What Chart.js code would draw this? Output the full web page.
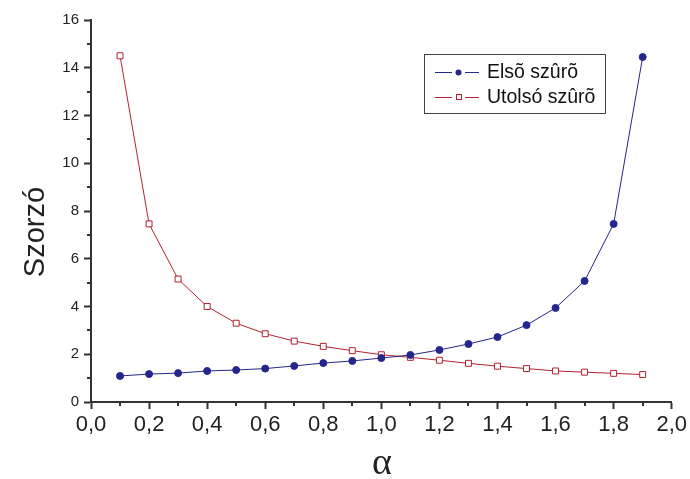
<!DOCTYPE html>
<html>
<head>
<meta charset="utf-8">
<script src="https://cdn.jsdelivr.net/npm/chart.js@4/dist/chart.umd.min.js"></script>
<style>
  html, body { margin: 0; padding: 0; background: #fff; }
  #wrap { width: 690px; height: 479px; }
</style>
</head>
<body>
<div id="wrap"><canvas id="chart" width="690" height="479"></canvas></div>
<script>
const alpha = [0.1, 0.2, 0.3, 0.4, 0.5, 0.6, 0.7, 0.8, 0.9, 1.0, 1.1, 1.2, 1.3, 1.4, 1.5, 1.6, 1.7, 1.8, 1.9];
const elso = [1.09, 1.17, 1.21, 1.30, 1.34, 1.40, 1.51, 1.63, 1.72, 1.84, 1.97, 2.18, 2.43, 2.72, 3.22, 3.94, 5.07, 7.46, 14.45];
const utolso = [14.5, 7.46, 5.15, 4.0, 3.3, 2.86, 2.55, 2.33, 2.15, 1.98, 1.87, 1.75, 1.62, 1.5, 1.4, 1.3, 1.25, 1.2, 1.15];
const seriesNames = ["Elsõ szûrõ", "Utolsó szûrõ"];
const xTicks = [0, 0.2, 0.4, 0.6, 0.8, 1.0, 1.2, 1.4, 1.6, 1.8, 2.0];
const yTicks = [0, 2, 4, 6, 8, 10, 12, 14, 16];
const xTitle = "α";
const yTitle = "Szorzó";

const blue = "#25268c";
const red = "#b5202f";
const axisColor = "#333333";
const font = "'Liberation Sans', Arial, sans-serif";

const toPoints = ys => ys.map((y, i) => ({ x: alpha[i], y }));

// minor ticks between the labelled ones
const minorTicks = {
  id: "minorTicks",
  afterDraw(chart) {
    const ctx = chart.ctx;
    const xs = chart.scales.x, ys = chart.scales.y;
    ctx.save();
    ctx.strokeStyle = axisColor;
    ctx.lineWidth = 2;
    ctx.beginPath();
    for (let i = 0; i < xTicks.length - 1; i++) {
      const px = Math.round(xs.getPixelForValue((xTicks[i] + xTicks[i + 1]) / 2));
      ctx.moveTo(px, ys.bottom);
      ctx.lineTo(px, ys.bottom + 4);
    }
    for (let i = 0; i < yTicks.length - 1; i++) {
      const py = Math.round(ys.getPixelForValue((yTicks[i] + yTicks[i + 1]) / 2));
      ctx.moveTo(xs.left, py);
      ctx.lineTo(xs.left - 4, py);
    }
    ctx.stroke();
    ctx.restore();
  }
};

// axis titles placed like the original (y title sits a bit low)
const axisTitles = {
  id: "axisTitles",
  afterDraw(chart) {
    const ctx = chart.ctx;
    ctx.save();
    ctx.fillStyle = "#222";
    ctx.textAlign = "center";
    ctx.textBaseline = "alphabetic";
    ctx.font = "38px 'Liberation Serif', 'Times New Roman', serif";
    ctx.fillText(xTitle, 382, 474);
    ctx.translate(44, 232);
    ctx.rotate(-Math.PI / 2);
    ctx.font = "29px " + font;
    ctx.fillText(yTitle, 0, 0);
    ctx.restore();
  }
};

// boxed legend like the original
const boxLegend = {
  id: "boxLegend",
  afterDraw(chart) {
    const ctx = chart.ctx;
    const bx = 424, by = 54, bw = 181, bh = 59;
    ctx.save();
    ctx.strokeStyle = "#444";
    ctx.lineWidth = 1;
    ctx.strokeRect(bx + 0.5, by + 0.5, bw, bh);
    chart.data.datasets.forEach((ds, i) => {
      const cy = by + 18 + i * 25;
      ctx.strokeStyle = ds.borderColor;
      ctx.lineWidth = 1;
      ctx.beginPath();
      ctx.moveTo(435, cy + 0.5); ctx.lineTo(452, cy + 0.5);
      ctx.moveTo(465, cy + 0.5); ctx.lineTo(479, cy + 0.5);
      ctx.stroke();
      if (ds.pointStyle === "rect") {
        ctx.fillStyle = "#fff";
        ctx.fillRect(456, cy - 3, 6, 6);
        ctx.strokeRect(456.5, cy - 2.5, 5, 5);
      } else {
        ctx.fillStyle = ds.pointBackgroundColor;
        ctx.beginPath();
        ctx.arc(458.5, cy + 0.5, 3, 0, Math.PI * 2);
        ctx.fill();
      }
      ctx.fillStyle = "#111";
      ctx.font = "19.5px " + font;
      ctx.textBaseline = "middle";
      ctx.fillText(ds.label, 487, cy + 1);
    });
    ctx.restore();
  }
};

new Chart(document.getElementById("chart").getContext("2d"), {
  type: "line",
  data: {
    datasets: [{
      label: seriesNames[0],
      data: toPoints(elso),
      borderColor: blue,
      backgroundColor: blue,
      pointBackgroundColor: blue,
      pointBorderColor: blue,
      pointStyle: "circle",
      pointRadius: 3.5,
      borderWidth: 1,
      tension: 0
    }, {
      label: seriesNames[1],
      data: toPoints(utolso),
      borderColor: red,
      backgroundColor: "#fff",
      pointBackgroundColor: "#fff",
      pointBorderColor: red,
      pointBorderWidth: 1,
      pointStyle: "rect",
      pointRadius: 4.2,
      borderWidth: 1,
      tension: 0
    }]
  },
  options: {
    responsive: false,
    animation: false,
    layout: { padding: { top: 20, right: 16, left: 0, bottom: 0 } },
    plugins: {
      legend: { display: false },
      tooltip: { enabled: false }
    },
    scales: {
      x: {
        type: "linear",
        min: 0,
        max: 2,
        afterFit(scale) { scale.height = 77; },
        afterBuildTicks(scale) { scale.ticks = xTicks.map(v => ({ value: v })); },
        ticks: {
          padding: 3,
          color: "#222",
          font: { family: font, size: 22 },
          maxRotation: 0,
          callback: v => Number(v).toFixed(1).replace(".", ",")
        },
        grid: { display: true, drawOnChartArea: false, tickLength: 7, tickWidth: 2, tickColor: axisColor },
        border: { display: true, color: axisColor, width: 2 }
      },
      y: {
        min: 0,
        max: 16,
        afterFit(scale) { scale.width = 91; },
        afterBuildTicks(scale) { scale.ticks = yTicks.map(v => ({ value: v })); },
        ticks: {
          padding: 5,
          color: "#222",
          font: { family: font, size: 15 }
        },
        grid: { display: true, drawOnChartArea: false, tickLength: 7, tickWidth: 2, tickColor: axisColor },
        border: { display: true, color: axisColor, width: 2 }
      }
    }
  },
  plugins: [minorTicks, axisTitles, boxLegend]
});
</script>
</body>
</html>
